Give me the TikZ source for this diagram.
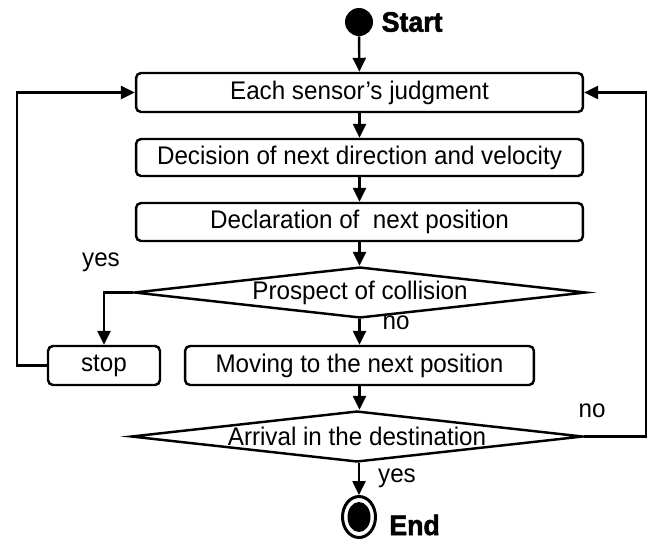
\documentclass[tikz,border=0pt]{standalone}
\usepackage{fontspec}
\setmainfont{Liberation Sans}[FakeStretch=0.95, BoldFeatures={FakeBold=2}]
\usetikzlibrary{arrows.meta, positioning, shapes.geometric}

\begin{document}
\begin{tikzpicture}[x=0.02cm, y=-0.02cm,
    >={Triangle[length=2.8mm, width=2.6mm]},
    every node/.style={font=\fontsize{14.5}{17}\selectfont},
    procbox/.style={rectangle, rounded corners=1mm, draw, line width=1.4pt,
      minimum height=0.78cm, inner sep=0pt},
    decision/.style={diamond, draw, line width=1.4pt, aspect=8.5, inner sep=0pt,
      minimum width=9.04cm, minimum height=1.02cm},
    flow/.style={->, line width=1.4pt},
    lbl/.style={inner sep=0pt},
    heavy/.style={font=\fontsize{16}{18}\selectfont\bfseries, inner sep=0pt},
  ]
  \useasboundingbox (0,0) rectangle (655,542);
  % start / end marks
  \node[circle, fill, minimum size=0.56cm, inner sep=0pt] (start) at (359,22) {};
  \node[heavy, right=0.16cm of start] (starttxt) {Start};
  \node[ellipse, draw, line width=1.7pt, minimum width=0.66cm, minimum height=0.82cm,
    inner sep=0pt] (end) at (359,517) {};
  \fill (end.center) ellipse (0.23cm and 0.3cm);
  \node[heavy, anchor=base west] (endtxt) at (389,535) {End};
  % steps
  \node[procbox, minimum width=8.94cm] (judge) at (359.5,92.5) {Each sensor’s judgment};
  \node[procbox, minimum width=8.94cm, minimum height=0.74cm] (decide) at (359.5,157.5)
    {Decision of next direction and velocity};
  \node[procbox, minimum width=8.94cm, minimum height=0.76cm] (declare) at (359.5,222)
    {Declaration of \ next position};
  \node[decision] (collide) at (360,292.5) {Prospect of collision};
  \node[procbox, minimum width=2.24cm] (stop) at (104,365.5) {stop};
  \node[procbox, minimum width=6.98cm] (move) at (359.5,365.5) {Moving to the next position};
  \node[decision] (arrive) at (357,436.5) {Arrival in the destination};
  % labels
  \node[lbl] (yesA) at (101,262) {yes};
  \node[lbl] (noA) at (396,323) {no};
  \node[lbl] (noB) at (592,411) {no};
  \node[lbl] (yesB) at (397,478) {yes};
  % loop corners
  \coordinate (lcorner) at (17,365.5);
  \coordinate (rcorner) at (646,436.5);
  % connectors
  \draw[flow] (start) -- (judge);
  \draw[flow] (judge) -- (decide);
  \draw[flow] (decide) -- (declare);
  \draw[flow] (declare) -- (declare |- collide.north);
  \draw[flow] (collide.west) -| (stop.north);
  \draw[flow] (collide.south -| move.north) -- (move.north);
  \draw[flow] (move.south) -- (move.south |- arrive.north);
  \draw[flow] (arrive.south -| end.north) -- (end.north);
  \draw[flow] (stop.west) -- (lcorner) |- (judge.west);
  \draw[flow] (arrive.east) -- (rcorner) |- (judge.east);
\end{tikzpicture}
\end{document}
